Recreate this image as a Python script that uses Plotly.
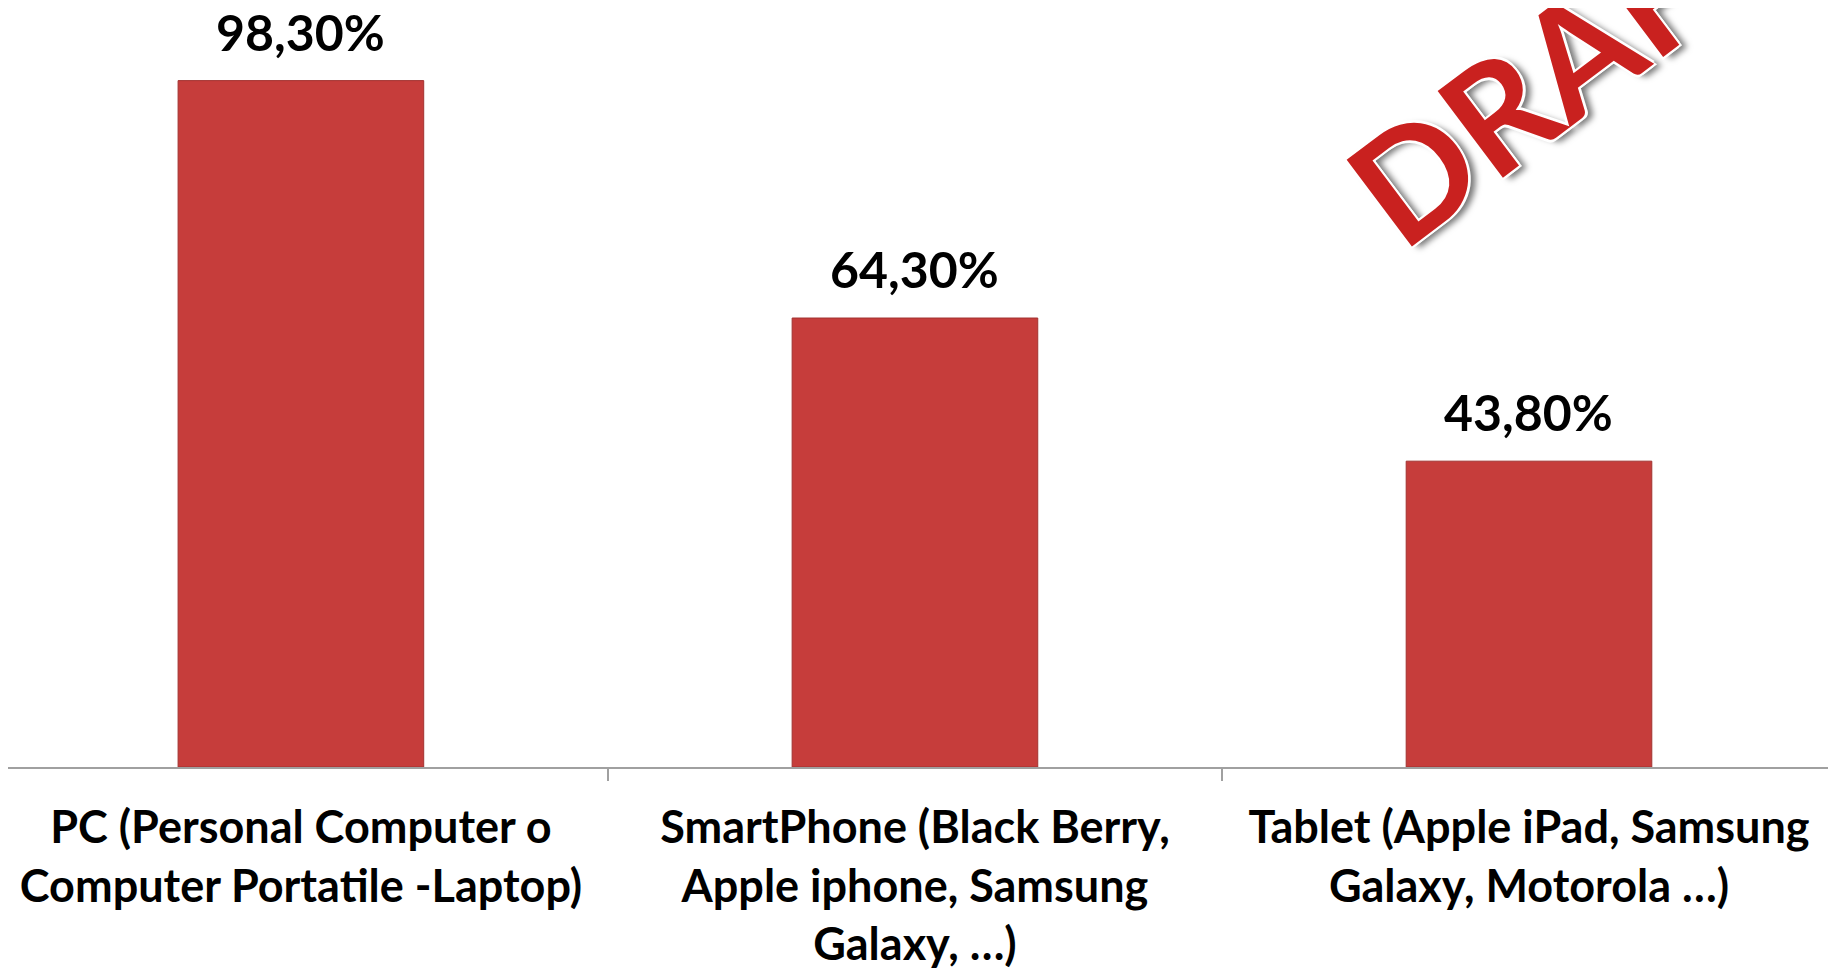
import plotly.graph_objects as go

# dati del grafico
categorie = [
    "PC (Personal Computer o<br>Computer Portatile -Laptop)",
    "SmartPhone (Black Berry,<br>Apple iphone, Samsung<br>Galaxy, \u2026)",
    "Tablet (Apple iPad, Samsung<br>Galaxy, Motorola \u2026)",
]
valori = [98.3, 64.3, 43.8]

FONT = "Lato, 'Open Sans', sans-serif"

fig = go.Figure()
fig.add_trace(go.Bar(
    x=categorie, y=valori, width=0.40,
    marker=dict(color="#c63d3b", line=dict(color="#a23230", width=1)),
    hoverinfo="skip",
))

# etichette valori sopra le barre
for c, v in zip(categorie, valori):
    fig.add_annotation(
        x=c, y=v, text=f"{v:.2f}%".replace(".", ","),
        showarrow=False, yanchor="middle", yshift=49,
        font=dict(family=FONT, size=50, color="#000000", weight="bold"),
    )

# scritta DRAFT
fig.add_annotation(
    xref="paper", yref="paper", x=1555 / 1836, y=(759 - 52) / 759,
    xanchor="center", yanchor="middle",
    text="DRAFT", showarrow=False, textangle=-37,
    font=dict(family=FONT, size=150, color="#c9211f", weight="bold",
              shadow="2px 2px 0 #fff, -2px -2px 0 #fff, 2px -2px 0 #fff, -2px 2px 0 #fff, 5px 6px 6px #777"),
)

fig.update_layout(
    width=1836, height=971,
    margin=dict(l=0, r=0, t=0, b=212),
    paper_bgcolor="white", plot_bgcolor="white",
    showlegend=False,
    xaxis=dict(
        type="category", range=[-0.477, 2.513], tickson="boundaries", automargin=False,
        ticks="outside", ticklen=12, tickcolor="#a0a0a0", tickwidth=2,
        showline=True, linecolor="#a0a0a0", linewidth=2,
        showgrid=False, ticklabelstandoff=20,
        tickfont=dict(family=FONT, size=45, color="#000000", weight="bold"),
    ),
    yaxis=dict(range=[0, 108.7], visible=False, showgrid=False, zeroline=False, automargin=False),
)

fig.write_html("out.html")
